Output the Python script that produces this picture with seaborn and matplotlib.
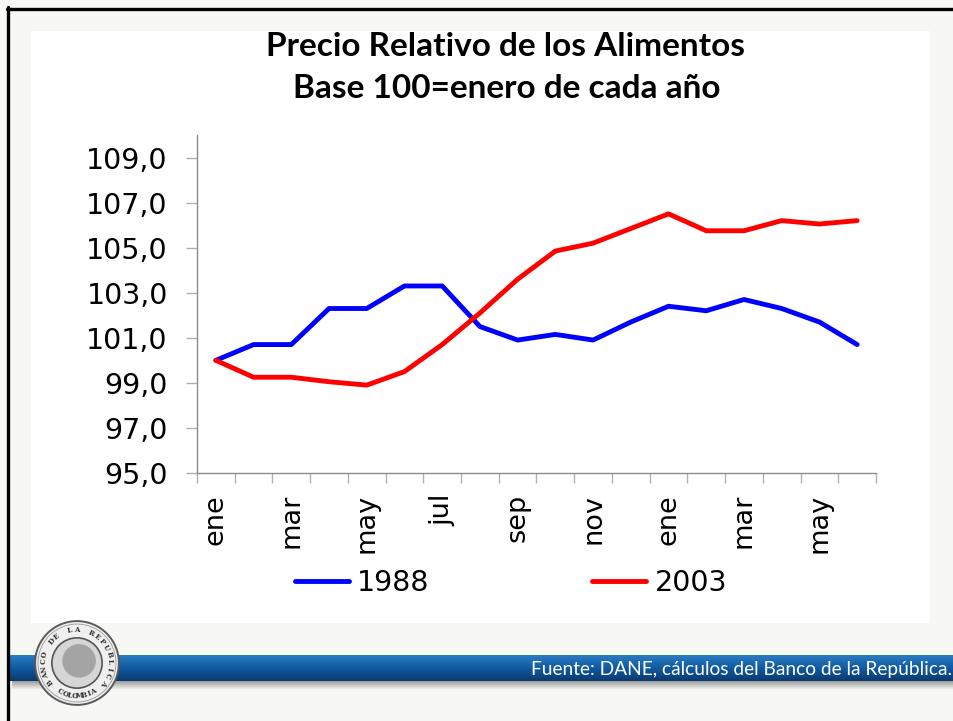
import numpy as np
import pandas as pd
import matplotlib
matplotlib.use('Agg')
import matplotlib.pyplot as plt
import seaborn as sns
from matplotlib.patches import Rectangle, Circle
from matplotlib.lines import Line2D
from matplotlib.colors import LinearSegmentedColormap

# datos (base 100 = enero de cada año)
meses = ['ene', 'feb', 'mar', 'abr', 'may', 'jun', 'jul', 'ago', 'sep',
         'oct', 'nov', 'dic', 'ene', 'feb', 'mar', 'abr', 'may', 'jun']
serie_1988 = [100.0, 100.7, 100.7, 102.3, 102.3, 103.3, 103.3, 101.5, 100.9,
              101.15, 100.9, 101.7, 102.4, 102.2, 102.7, 102.3, 101.7, 100.7]
serie_2003 = [100.0, 99.25, 99.25, 99.05, 98.9, 99.5, 100.7, 102.1, 103.6,
              104.85, 105.2, 105.85, 106.5, 105.75, 105.75, 106.2, 106.05, 106.2]
y_ticks = [95, 97, 99, 101, 103, 105, 107, 109]

titulo_1 = 'Precio Relativo de los Alimentos'
titulo_2 = 'Base 100=enero de cada año'
fuente = 'Fuente: DANE, cálculos del Banco de la República.'

sns.set_style('white')
plt.rcParams['font.family'] = ['DejaVu Sans']

W, H = 954, 721
fig = plt.figure(figsize=(W / 100, H / 100), dpi=100, facecolor='#f7f7f4')


def fx(px):
    return px / W


def fy(py):
    return 1 - py / H


# caja blanca del grafico (detras de los ejes)
fig.patches.append(Rectangle((fx(31), fy(623)), fx(930) - fx(31), fy(31) - fy(623),
                             transform=fig.transFigure, facecolor='white',
                             edgecolor='none', zorder=-5))
# marco negro de la diapositiva
fig.lines.append(Line2D([fx(7), 1], [fy(8.5), fy(8.5)], transform=fig.transFigure,
                        color='black', lw=2.4))
fig.lines.append(Line2D([fx(8.5), fx(8.5)], [fy(7), 0], transform=fig.transFigure,
                        color='black', lw=2.4))

# grafico principal
df = pd.DataFrame({
    'mes': list(range(len(meses))) * 2,
    'valor': serie_1988 + serie_2003,
    'serie': ['1988'] * len(meses) + ['2003'] * len(meses),
})

ax = fig.add_axes([fx(197), fy(473), fx(876) - fx(197), fy(135) - fy(473)])
ax.set_facecolor('white')
sns.lineplot(data=df, x='mes', y='valor', hue='serie',
             palette={'1988': '#0000ff', '2003': '#ff0000'},
             linewidth=3.5, ax=ax, legend=True)

ax.set_ylim(95, 110)
ax.set_xlim(-0.5, len(meses) - 0.5)
ax.set_yticks(y_ticks)
ax.set_yticklabels([f'{v:.1f}'.replace('.', ',') for v in y_ticks])
ax.set_xticks(range(0, len(meses), 2))
ax.set_xticklabels(meses[::2], rotation=90)
ax.set_xticks(np.arange(-0.5, len(meses), 1), minor=True)
ax.set_xlabel('')
ax.set_ylabel('')

for s in ['top', 'right']:
    ax.spines[s].set_visible(False)
for s in ['left', 'bottom']:
    ax.spines[s].set_color('#8c8c8c')
    ax.spines[s].set_linewidth(1.0)

ax.tick_params(axis='y', which='major', direction='out', length=8, width=1,
               color='#b0b0b0', pad=13, labelsize=20.5, labelcolor='black', left=True)
ax.tick_params(axis='x', which='major', length=0, pad=15, labelsize=19.5,
               labelcolor='black')
ax.tick_params(axis='x', which='minor', direction='out', length=7, width=1,
               color='#b0b0b0', bottom=True)

handles, labels = ax.get_legend_handles_labels()
leg = ax.legend(handles, labels, loc='center', bbox_to_anchor=(fx(511), fy(583)),
                bbox_transform=fig.transFigure, ncol=2, frameon=False, fontsize=20.5,
                handlelength=1.9, handletextpad=0.3, columnspacing=5.7)
for t in leg.get_texts():
    t.set_color('black')

# titulo
fig.text(fx(506), fy(47), titulo_1, ha='center', va='center', color='black',
         fontsize=24, fontweight='bold', family=['Lato', 'DejaVu Sans'])
fig.text(fx(507), fy(89), titulo_2, ha='center', va='center', color='black',
         fontsize=24, fontweight='bold', family=['Lato', 'DejaVu Sans'])

# banda azul inferior con degradado
sombra = fig.add_axes([fx(12), fy(690), 1 - fx(12), fy(679) - fy(690)])
sombra.imshow(np.linspace(0, 1, 20).reshape(-1, 1),
              cmap=LinearSegmentedColormap.from_list('s', ['#8a8a8a', '#f7f7f4']),
              aspect='auto', extent=[0, 1, 0, 1], origin='upper')
sombra.axis('off')

banda = fig.add_axes([fx(10), fy(681), 1 - fx(10), fy(655) - fy(681)])
banda.imshow(np.linspace(0, 1, 50).reshape(-1, 1),
             cmap=LinearSegmentedColormap.from_list('b', ['#2b7cc4', '#105aa0', '#0a3a6e']),
             aspect='auto', extent=[0, 1, 0, 1], origin='upper')
banda.axis('off')

fig.text(fx(952), fy(669), fuente, ha='right', va='center', color='white',
         fontsize=13.8, family=['Lato', 'DejaVu Sans'])

# sello del banco
logo = fig.add_axes([fx(33), fy(707), fx(88), fy(0) - fy(88)])
logo.set_xlim(-1.05, 1.05)
logo.set_ylim(-1.05, 1.05)
logo.set_aspect('equal')
logo.axis('off')
logo.add_patch(Circle((0, 0), 1.0, facecolor='#efefef', edgecolor='#5a5a5a', lw=1.4))
logo.add_patch(Circle((0, 0), 0.93, facecolor='none', edgecolor='#9a9a9a', lw=0.6))
logo.add_patch(Circle((0, 0), 0.6, facecolor='#d6d6d6', edgecolor='#555555', lw=1.2))
logo.add_patch(Circle((0.05, 0.05), 0.4, facecolor='#8f8f8f', edgecolor='none', alpha=0.7))

arriba = 'BANCO DE LA REPUBLICA'
ang = np.linspace(215, -35, len(arriba))
for ch, a in zip(arriba, ang):
    r = np.deg2rad(a)
    logo.text(0.79 * np.cos(r), 0.79 * np.sin(r), ch, rotation=a - 90,
              ha='center', va='center', fontsize=5, fontweight='bold',
              family='DejaVu Serif', color='#333333')
abajo = 'COLOMBIA'
ang = np.linspace(240, 300, len(abajo))
for ch, a in zip(abajo, ang):
    r = np.deg2rad(a)
    logo.text(0.79 * np.cos(r), 0.79 * np.sin(r), ch, rotation=a + 90,
              ha='center', va='center', fontsize=5, fontweight='bold',
              family='DejaVu Serif', color='#333333')

fig.savefig('out.png', dpi=100, facecolor=fig.get_facecolor())
